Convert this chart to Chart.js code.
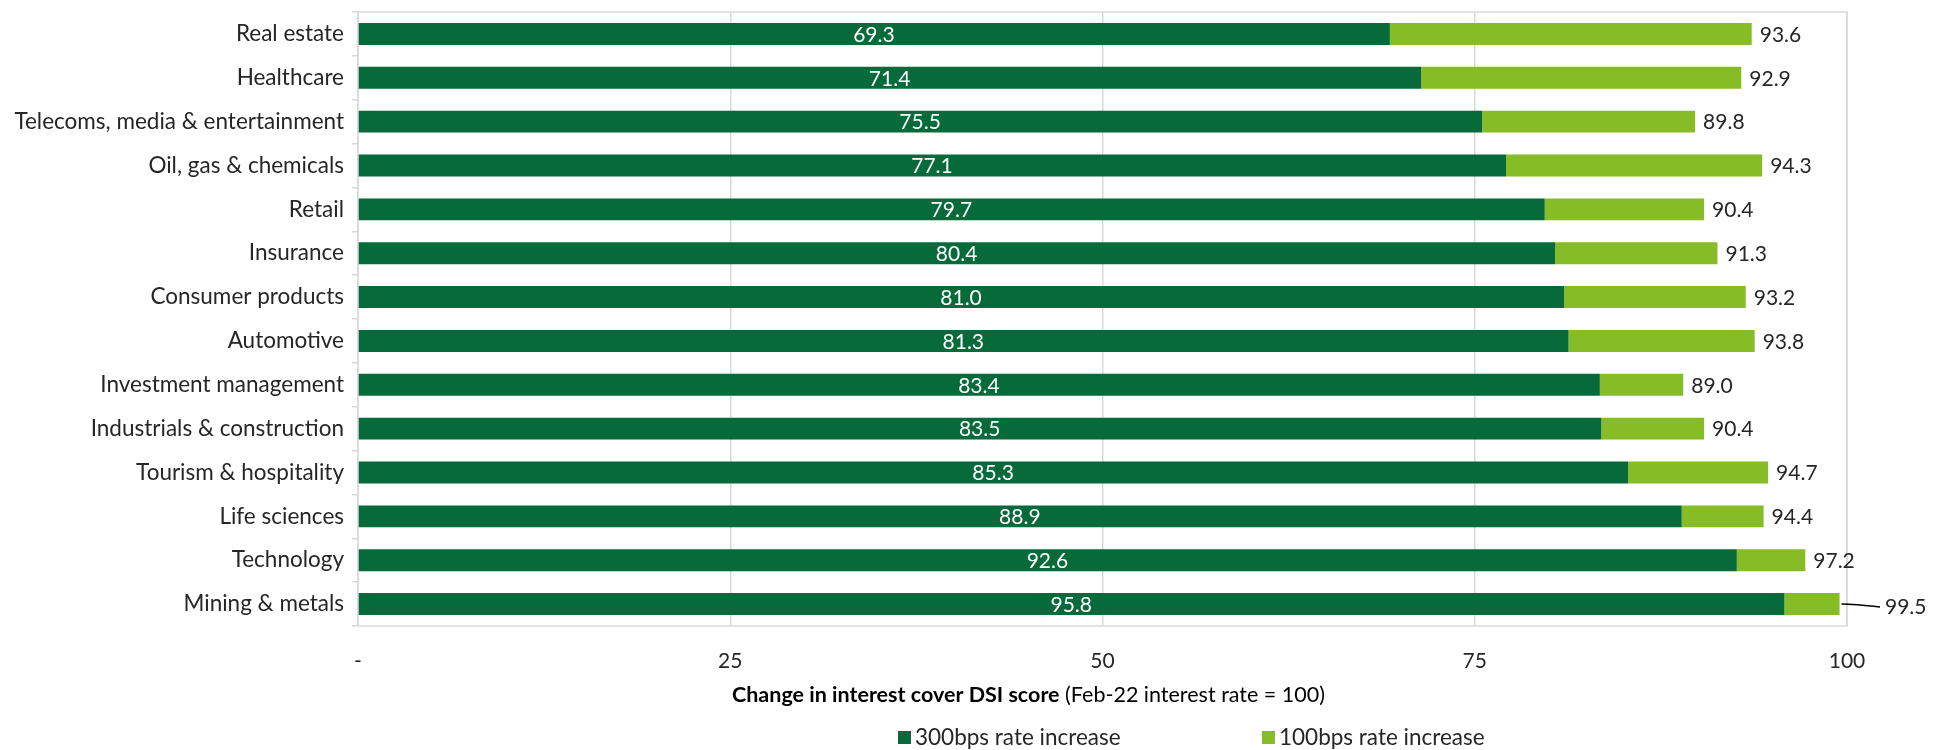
<!DOCTYPE html>
<html>
<head>
<meta charset="utf-8">
<script src="https://cdn.jsdelivr.net/npm/chart.js@4.4.1/dist/chart.umd.min.js"></script>
<style>
html,body{margin:0;padding:0;background:#fff;}
#wrap{position:relative;width:1935px;height:750px;}
</style>
</head>
<body>
<div id="wrap"><canvas id="c" width="1935" height="750"></canvas></div>
<script>
const categories = ["Real estate","Healthcare","Telecoms, media & entertainment","Oil, gas & chemicals","Retail","Insurance","Consumer products","Automotive","Investment management","Industrials & construction","Tourism & hospitality","Life sciences","Technology","Mining & metals"];
const rate300 = [69.3,71.4,75.5,77.1,79.7,80.4,81.0,81.3,83.4,83.5,85.3,88.9,92.6,95.8];
const rate100 = [93.6,92.9,89.8,94.3,90.4,91.3,93.2,93.8,89.0,90.4,94.7,94.4,97.2,99.5];
const xTicks = [0,25,50,75,100];
const seriesNames = ["300bps rate increase","100bps rate increase"];
const axisTitleBold = "Change in interest cover DSI score";
const axisTitleNormal = " (Feb-22 interest rate = 100)";

const DARK = "#076a3a", LIGHT = "#86bc25", TXT = "#262626", GRID = "#d9d9d9";
const FONT = "Lato";
const FS = 21;
const FS_CAT = 22.5;

const labelPlugin = {
  id: "labels",
  afterDatasetsDraw(chart) {
    const ctx = chart.ctx;
    const ca = chart.chartArea;
    const m0 = chart.getDatasetMeta(0), m1 = chart.getDatasetMeta(1);
    const xs = chart.scales.x;
    ctx.save();
    ctx.font = FS + "px " + FONT;
    ctx.textBaseline = "middle";
    m0.data.forEach((bar, i) => {
      ctx.fillStyle = "#fff";
      ctx.textAlign = "center";
      const x0 = xs.getPixelForValue(0);
      ctx.fillText(rate300[i].toFixed(1), (x0 + bar.x) / 2, bar.y + 1);
      const b1 = m1.data[i];
      ctx.fillStyle = TXT;
      ctx.textAlign = "left";
      const end = b1.x;
      if (end + 20 > ca.right) {
        const lx = ca.right + 38;
        ctx.strokeStyle = "#000";
        ctx.lineWidth = 1.5;
        ctx.beginPath();
        ctx.moveTo(end + 2, b1.y);
        ctx.quadraticCurveTo(end + 14, b1.y, lx - 5, b1.y + 3);
        ctx.stroke();
        ctx.fillText(rate100[i].toFixed(1), lx, b1.y + 3);
      } else {
        ctx.fillText(rate100[i].toFixed(1), end + 8, b1.y + 1);
      }
    });
    ctx.restore();
  },
  beforeDatasetsDraw(chart) {
    const ctx = chart.ctx, ca = chart.chartArea;
    ctx.save();
    ctx.strokeStyle = GRID;
    ctx.lineWidth = 1.5;
    ctx.strokeRect(ca.left, ca.top, ca.right - ca.left, ca.bottom - ca.top);
    ctx.restore();
  },
  afterDraw(chart) {
    const ctx = chart.ctx, ca = chart.chartArea;
    ctx.save();
    ctx.textBaseline = "middle";
    ctx.fillStyle = "#000";
    const TS = 21.5;
    ctx.font = "bold " + TS + "px " + FONT;
    const wB = ctx.measureText(axisTitleBold).width;
    let x = 732;
    ctx.textAlign = "left";
    ctx.fillText(axisTitleBold, x, 695);
    ctx.font = TS + "px " + FONT;
    ctx.fillText(axisTitleNormal, x + wB, 695);
    // legend
    ctx.font = FS_CAT + "px " + FONT;
    const items = [[seriesNames[0], DARK, 898], [seriesNames[1], LIGHT, 1262]];
    items.forEach(([t, c, lx]) => {
      ctx.fillStyle = c;
      ctx.fillRect(lx, 731, 13, 13);
      ctx.fillStyle = TXT;
      ctx.fillText(t, lx + 17, 738);
    });
    ctx.restore();
  }
};

new Chart(document.getElementById("c"), {
  type: "bar",
  data: {
    labels: categories,
    datasets: [
      { label: seriesNames[0], data: rate300, backgroundColor: DARK, grouped: false, barPercentage: 0.5, categoryPercentage: 1, order: 1 },
      { label: seriesNames[1], data: rate300.map((v, i) => [v, rate100[i]]), backgroundColor: LIGHT, grouped: false, barPercentage: 0.5, categoryPercentage: 1, order: 2 }
    ]
  },
  options: {
    indexAxis: "y",
    responsive: false,
    animation: false,
    layout: { padding: { top: 12, right: 88, left: 0, bottom: 0 } },
    plugins: { legend: { display: false }, tooltip: { enabled: false } },
    scales: {
      x: {
        min: 0, max: 100,
        afterBuildTicks(s) { s.ticks = xTicks.map(v => ({ value: v })); },
        afterFit(s) { s.height = 124; s.paddingLeft = 0; s.paddingRight = 0; },
        grid: { color: GRID, lineWidth: 1.5, drawTicks: false },
        border: { display: false },
        ticks: { padding: 23, color: TXT, font: { family: FONT, size: FS }, callback: v => v === 0 ? "-" : v }
      },
      y: {
        afterFit(s) { s.width = 358; s.paddingTop = 0; s.paddingBottom = 0; },
        grid: { offset: true, drawOnChartArea: false, color: GRID, lineWidth: 1.5, tickLength: 6 },
        border: { display: false },
        ticks: { padding: 8, color: TXT, font: { family: FONT, size: FS_CAT } }
      }
    }
  },
  plugins: [labelPlugin]
});
</script>
</body>
</html>
